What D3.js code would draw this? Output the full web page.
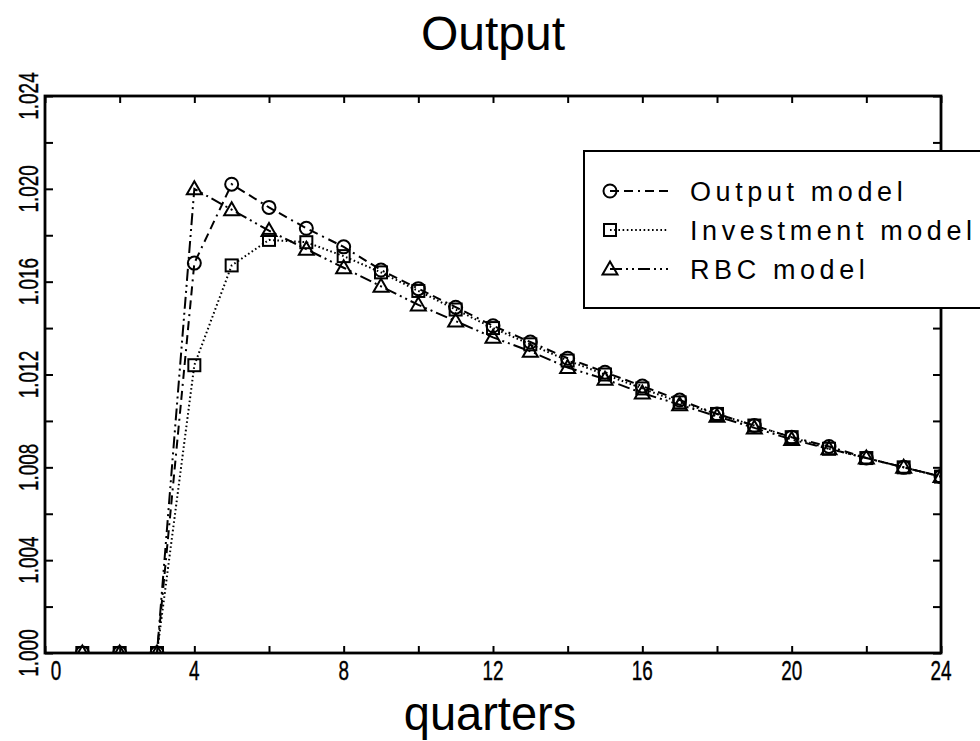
<!DOCTYPE html>
<html>
<head>
<meta charset="utf-8">
<script src="https://cdn.jsdelivr.net/npm/d3@7"></script>
<style>
  html, body { margin: 0; padding: 0; background: #fff; }
  svg { display: block; }
  text { font-family: "Liberation Sans", Arial, sans-serif; fill: #000; }
</style>
</head>
<body>
<svg id="chart" width="980" height="741"></svg>
<script>
// ---- data ----
const quarters = [1,2,3,4,5,6,7,8,9,10,11,12,13,14,15,16,17,18,19,20,21,22,23,24];
const outputModel = [1.000,1.000,1.000,1.0168,1.0202,1.0192,1.0183,1.0175,1.0165,1.0157,1.0149,1.0141,1.0134,1.0127,1.0121,1.0115,1.0109,1.0103,1.0098,1.0093,1.0089,1.0084,1.0080,1.0076];
const investmentModel = [1.000,1.000,1.000,1.0124,1.0167,1.0178,1.0177,1.0171,1.0164,1.0156,1.0148,1.0140,1.0133,1.0126,1.0120,1.0114,1.0108,1.0103,1.0098,1.0093,1.0088,1.0084,1.0080,1.0076];
const rbcModel = [1.000,1.000,1.000,1.0200,1.0191,1.0182,1.0174,1.0166,1.0158,1.0150,1.0143,1.0136,1.0130,1.0123,1.0118,1.0112,1.0107,1.0102,1.0097,1.0092,1.0088,1.0084,1.0080,1.0076];
const seriesNames = ["Output model", "Investment model", "RBC model"];
const xTickValues = [0,2,4,6,8,10,12,14,16,18,20,22,24];
const xLabelValues = [0,4,8,12,16,20,24];
const yTickValues = [1.000,1.002,1.004,1.006,1.008,1.010,1.012,1.014,1.016,1.018,1.020,1.022,1.024];
const yLabelValues = [1.000,1.004,1.008,1.012,1.016,1.020,1.024];
const titleText = "Output";
const xAxisTitle = "quarters";

// ---- layout ----
const L = 45, R = 941, T = 96, B = 653;
const svg = d3.select("#chart");
const x = d3.scaleLinear().domain([0, 24]).range([L, R]);
const y = d3.scaleLinear().domain([1.000, 1.024]).range([B, T]);

svg.append("defs").append("clipPath").attr("id", "plotclip")
  .append("rect").attr("x", L).attr("y", T).attr("width", R - L).attr("height", B - T);

// ticks (inward) on all four sides
function styleAxis(g) {
  g.select(".domain").remove();
  g.selectAll("line").attr("stroke", "#000").attr("stroke-width", 2);
}
svg.append("g").attr("transform", `translate(0,${B})`)
  .call(d3.axisBottom(x).tickValues(xTickValues).tickSize(-7).tickFormat("")).call(styleAxis);
svg.append("g").attr("transform", `translate(0,${T})`)
  .call(d3.axisTop(x).tickValues(xTickValues).tickSize(-7).tickFormat("")).call(styleAxis);
svg.append("g").attr("transform", `translate(${L},0)`)
  .call(d3.axisLeft(y).tickValues(yTickValues).tickSize(-8).tickFormat("")).call(styleAxis);
svg.append("g").attr("transform", `translate(${R},0)`)
  .call(d3.axisRight(y).tickValues(yTickValues).tickSize(-8).tickFormat("")).call(styleAxis);

// frame
svg.append("rect").attr("x", L).attr("y", T).attr("width", R - L).attr("height", B - T)
  .attr("fill", "none").attr("stroke", "#000").attr("stroke-width", 2.8);

// tick labels
svg.append("g").selectAll("text").data(xLabelValues).join("text")
  .attr("text-anchor", "middle")
  .attr("font-size", 27)
  .attr("stroke", "#000").attr("stroke-width", 0.4)
  .attr("transform", d => `translate(${x(d) + (d === 0 ? 11 : 0)},${B + 27}) scale(0.7,1)`)
  .text(d => d);
const fmt = d3.format(".3f");
svg.append("g").selectAll("text").data(yLabelValues).join("text")
  .attr("text-anchor", "middle")
  .attr("font-size", 27)
  .attr("stroke", "#000").attr("stroke-width", 0.4)
  .attr("transform", d => `translate(38,${y(d)}) rotate(-90) scale(0.7,1)`)
  .text(d => fmt(d));

// titles
svg.append("text").attr("x", 493).attr("y", 50).attr("text-anchor", "middle")
  .attr("font-size", 48).text(titleText);
svg.append("text").attr("text-anchor", "middle").attr("font-size", 48)
  .attr("transform", `translate(490,730) scale(0.98,1)`).text(xAxisTitle);

// series
const series = [
  { name: seriesNames[0], values: outputModel, dash: "9,5,9,5,2,5", marker: "circle" },
  { name: seriesNames[1], values: investmentModel, dash: "1.6,2.6", marker: "square" },
  { name: seriesNames[2], values: rbcModel, dash: "12,4,2,4,2,4", marker: "triangle" }
];

function drawMarker(g, type, cx, cy) {
  if (type === "circle") {
    g.append("circle").attr("cx", cx).attr("cy", cy).attr("r", 6.5)
      .attr("fill", "none").attr("stroke", "#000").attr("stroke-width", 2);
  } else if (type === "square") {
    g.append("rect").attr("x", cx - 6).attr("y", cy - 6).attr("width", 12).attr("height", 12)
      .attr("fill", "none").attr("stroke", "#000").attr("stroke-width", 2);
  } else {
    g.append("path").attr("d", `M${cx},${cy - 7.5}L${cx + 7.5},${cy + 5.5}L${cx - 7.5},${cy + 5.5}Z`)
      .attr("fill", "none").attr("stroke", "#000").attr("stroke-width", 2);
  }
}

const plot = svg.append("g").attr("clip-path", "url(#plotclip)");
series.forEach(s => {
  const line = d3.line().x((d, i) => x(quarters[i])).y(d => y(d));
  plot.append("path").attr("d", line(s.values)).attr("fill", "none")
    .attr("stroke", "#000").attr("stroke-width", 2).attr("stroke-dasharray", s.dash);
});
series.forEach(s => {
  const mg = plot.append("g");
  s.values.forEach((v, i) => drawMarker(mg, s.marker, x(quarters[i]), y(v)));
});

// legend
const lg = svg.append("g");
lg.append("rect").attr("x", 584).attr("y", 151).attr("width", 420).attr("height", 157)
  .attr("fill", "#fff").attr("stroke", "#000").attr("stroke-width", 2);
series.forEach((s, i) => {
  const cy = 191 + i * 39;
  lg.append("line").attr("x1", 610).attr("x2", 668).attr("y1", cy).attr("y2", cy)
    .attr("stroke", "#000").attr("stroke-width", 2).attr("stroke-dasharray", s.dash);
  drawMarker(lg, s.marker, 610, cy);
  lg.append("text").attr("x", 690).attr("y", cy + 10).attr("font-size", 27)
    .attr("letter-spacing", 4.6).text(s.name);
});
</script>
</body>
</html>
